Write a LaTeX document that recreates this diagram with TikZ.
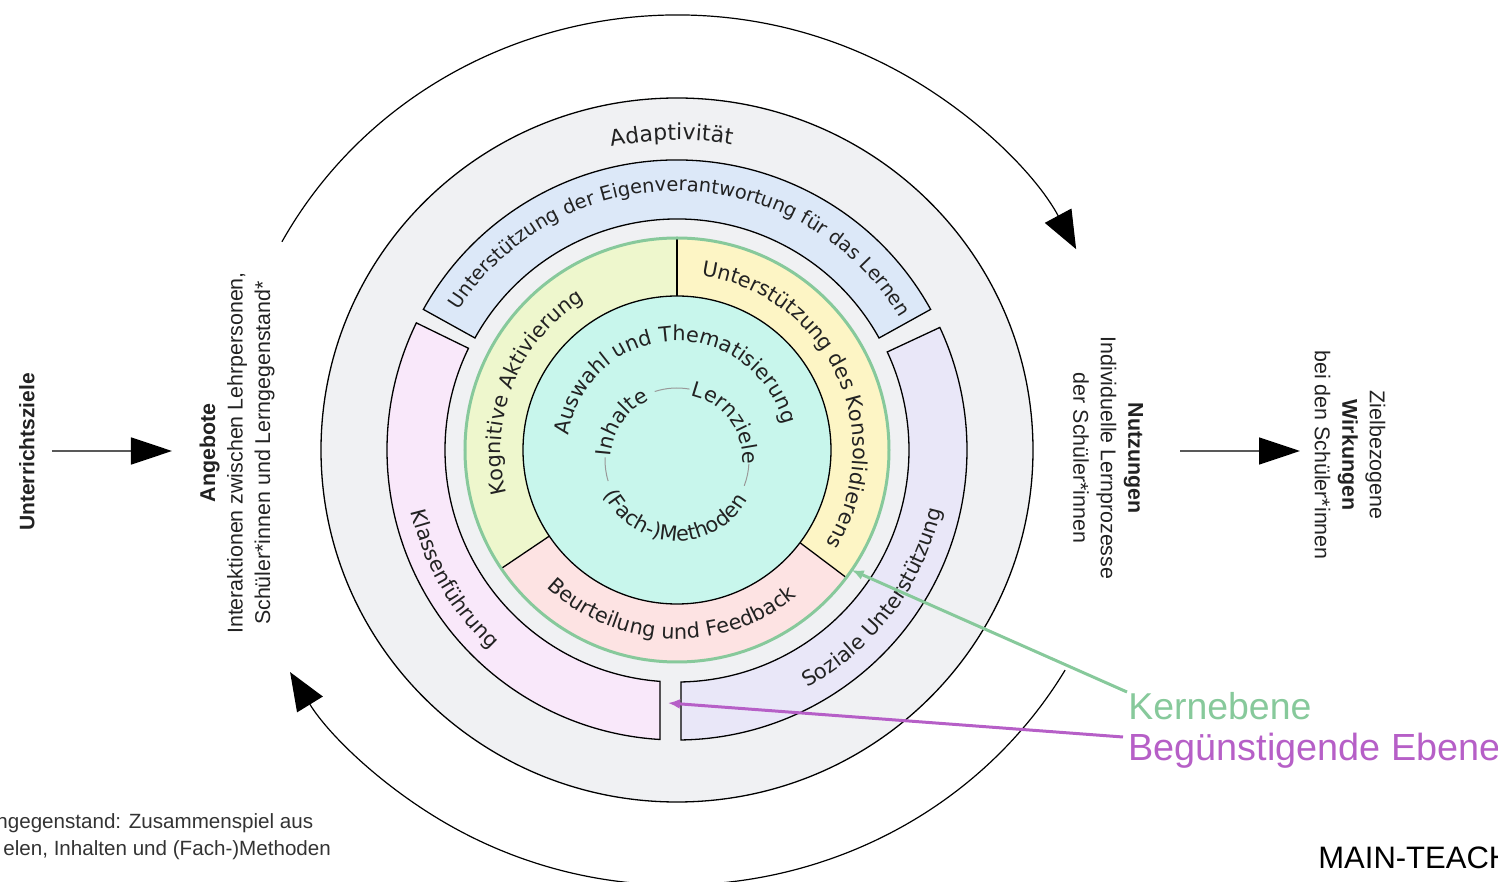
\documentclass[tikz,border=0pt]{standalone}
\usepackage{fontspec}
\setmainfont{Liberation Sans}
\newfontfamily\dv{DejaVu Sans}
\usetikzlibrary{decorations.text,arrows.meta}
\definecolor{diskc}{HTML}{F0F1F3}
\definecolor{blueb}{HTML}{DCE8F8}
\definecolor{pinkb}{HTML}{F9E8FA}
\definecolor{lavb}{HTML}{E9E7F8}
\definecolor{kogc}{HTML}{EEF7CD}
\definecolor{konc}{HTML}{FDF5C5}
\definecolor{beuc}{HTML}{FDE3E3}
\definecolor{tealc}{HTML}{C8F6EC}
\definecolor{greenc}{HTML}{87C99B}
\definecolor{purpc}{HTML}{B65FC7}
\definecolor{txt}{HTML}{222222}
\definecolor{sidetxt}{HTML}{222222}
\newcommand\ringfont{\dv\fontsize{10.4pt}{12pt}\selectfont}
\newcommand\bluefont{\dv\fontsize{9.7pt}{12pt}\selectfont}
\newcommand\adfont{\dv\fontsize{11pt}{13pt}\selectfont}
\begin{document}
\begin{tikzpicture}[x=0.5pt,y=0.5pt,
  outl/.style={draw=black,line width=0.65pt},
  ringtext/.style={decorate,decoration={text along path,text align=center,text color=txt,text={|\ringfont|#1}}},
  bluetext/.style={decorate,decoration={text along path,text align=center,text color=txt,text={|\bluefont|#1}}},
  adtext/.style={decorate,decoration={text along path,text align=center,text color=txt,text={|\adfont|#1}}},
  cycarrow/.style={draw=black,line width=0.6pt,-{Triangle[length=19pt,width=15pt]}},
  flowarrow/.style={draw=black!65,line width=0.8pt,-{Triangle[length=20.5pt,width=13.5pt,fill=black,color=black]}},
  sidelabel/.style={font=\fontsize{10.7pt}{13.75pt}\selectfont,text=sidetxt,align=center,inner sep=0pt},
  pointer/.style={line width=1.5pt,-{Latex[length=6pt,width=5pt]}},
  smallarc/.style={draw=black!40,line width=0.5pt}
]
\useasboundingbox (-677,-432) rectangle (821,450);
\clip (-677,-432) rectangle (821,450);

% cycle arrows
\draw[cycarrow] (151.4:450 and 435) arc[start angle=151.4,end angle=27.5,x radius=450,y radius=435];
\draw[cycarrow] (-30.4:450 and 435) arc[start angle=-30.4,end angle=-149.3,x radius=450,y radius=435];

% outer disk (Adaptivitaet)
\draw[outl,fill=diskc] (0,0) ellipse[x radius=356,y radius=352];

% favourable level bands
\draw[outl,fill=blueb] (29:290) arc[start angle=29,end angle=151,radius=290] -- (151:231) arc[start angle=151,end angle=29,radius=231] -- cycle;
\draw[outl,fill=pinkb] (154:290) arc[start angle=154,end angle=266.64,radius=290] -- (265.8:232) arc[start angle=265.8,end angle=154,radius=232] -- cycle;
\draw[outl,fill=lavb] (25:290) arc[start angle=25,end angle=-89.21,radius=290] -- (-89.01:232) arc[start angle=-89.01,end angle=25,radius=232] -- cycle;

% core level segments
\fill[kogc] (0,0) -- (90:212) arc[start angle=90,end angle=214,radius=212] -- cycle;
\fill[konc] (0,0) -- (-37:212) arc[start angle=-37,end angle=90,radius=212] -- cycle;
\fill[beuc] (0,0) -- (214:212) arc[start angle=214,end angle=323,radius=212] -- cycle;
\draw[outl] (90:154) -- (90:212);
\draw[outl] (214:154) -- (214:212);
\draw[outl] (-37:154) -- (-37:212);
\draw[draw=greenc,line width=1.5pt] (0,0) circle[radius=212];
\draw[outl,fill=tealc] (0,0) circle[radius=154];

% small inner circle arcs
\begin{scope}[shift={(0,-10)}]
\draw[smallarc] (108:72) arc[start angle=108,end angle=80,radius=72];
\draw[smallarc] (178:72) arc[start angle=178,end angle=197,radius=72];
\draw[smallarc] (-3:72) arc[start angle=-3,end angle=-21,radius=72];
\path[ringtext={Inhalte}] (206:66) arc[start angle=206,end angle=86,radius=66];
\path[ringtext={Lernziele}] (97:66) arc[start angle=97,end angle=-23,radius=66];
\path[ringtext={(Fach-)Methoden}] (183:81) arc[start angle=183,end angle=353,radius=81];
\end{scope}

% ring texts
\path[adtext={Adaptivität}] (151:310) arc[start angle=151,end angle=31,radius=310];
\path[bluetext={Unterstützung der Eigenverantwortung für das Lernen}] (164:259) arc[start angle=164,end angle=14,radius=259];
\path[ringtext={Auswahl und Thematisierung}] (181:109) arc[start angle=181,end angle=5,radius=109];
\path[ringtext={Kognitive Aktivierung}] (218:176) arc[start angle=218,end angle=98,radius=176];
\path[ringtext={Unterstützung des Konsolidierens}] (100:176) arc[start angle=100,end angle=-50,radius=176];
\path[ringtext={Beurteilung und Feedback}] (208:189) arc[start angle=208,end angle=328,radius=189];
\path[ringtext={Klassenführung}] (170:273) arc[start angle=170,end angle=250,radius=273];
\path[ringtext={Soziale Unterstützung}] (278:271) arc[start angle=278,end angle=368,radius=271];

% side labels
\node[sidelabel,rotate=90,font=\bfseries\fontsize{10.5pt}{13.75pt}\selectfont] (uz) at (-650,-2) {Unterrichtsziele};
\node[sidelabel,rotate=90] (ang) at (-440,-3) {\textbf{Angebote}\\Interaktionen zwischen Lehrpersonen,\\Schüler*innen und Lerngegenstand*};
\node[sidelabel,rotate=-90] (nutz) at (431,-8) {\textbf{Nutzungen}\\Individuelle Lernprozesse\\der Schüler*innen};
\node[sidelabel,rotate=-90] (wirk) at (673,-5) {Zielbezogene\\\textbf{Wirkungen}\\bei den Schüler*innen};

\coordinate (a1s) at (-625,-1);
\coordinate (a1e) at (-505,-1);
\coordinate (a2s) at (503,-1);
\coordinate (a2e) at (623,-1);
\draw[flowarrow] (a1s) -- (a1e);
\draw[flowarrow] (a2s) -- (a2e);

% footnote and source
\node[anchor=west,inner sep=0pt,text=black!80,font=\fontsize{10.3pt}{12pt}\selectfont] (fn1) at (-681,-373) {ngegenstand: Zusammenspiel aus};
\node[anchor=west,inner sep=0pt,text=black!80,font=\fontsize{10.3pt}{12pt}\selectfont] (fn2) at (-674,-400) {elen, Inhalten und (Fach-)Methoden};
\node[anchor=west,inner sep=0pt,font=\fontsize{15.5pt}{18pt}\selectfont] (src) at (641,-408) {MAIN-TEACH};

% legend and pointers
\node[anchor=west,inner sep=0pt,text=greenc,font=\fontsize{18.7pt}{22pt}\selectfont] (kern) at (451,-256) {Kernebene};
\node[anchor=west,inner sep=0pt,text=purpc,font=\fontsize{18.9pt}{22pt}\selectfont] (beg) at (451,-301) {Begünstigende Ebene};
\coordinate (kernstart) at (450,-242);
\coordinate (kernend) at (-34.5:212);
\coordinate (begstart) at (446,-287);
\coordinate (begend) at (-9,-253);
\draw[pointer,draw=greenc,color=greenc] (kernstart) -- (kernend);
\draw[pointer,draw=purpc,color=purpc] (begstart) -- (begend);
\end{tikzpicture}
\end{document}
